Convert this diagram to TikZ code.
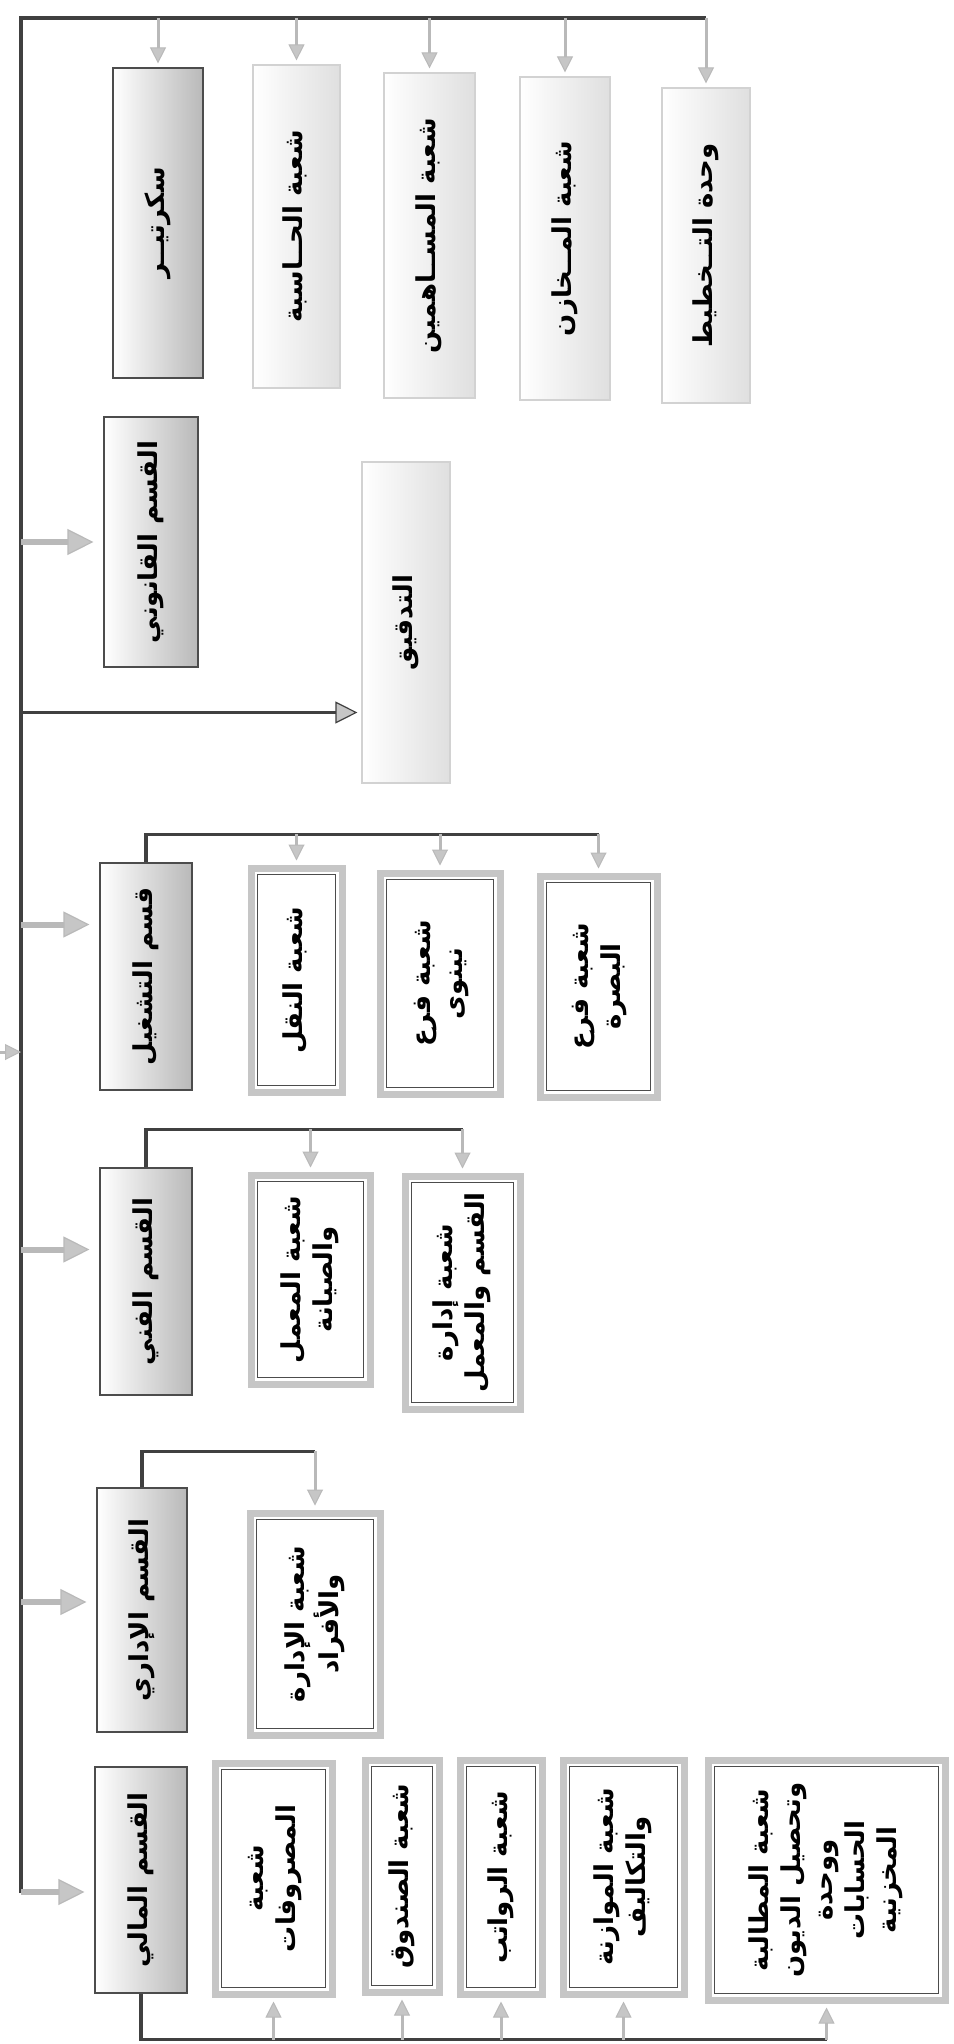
\documentclass[tikz,border=0pt]{standalone}
\usepackage{fontspec}
\usepackage{graphicx}
\usetikzlibrary{arrows.meta,positioning}
\newfontfamily\arabicfont[Script=Arabic]{DejaVu Sans}
\TeXXeTstate=1
\newcommand\ar[1]{\beginR#1\endR}
\newcommand\vt[1]{\rotatebox{90}{\begin{tabular}{@{}c@{}}#1\end{tabular}}}
\tikzset{>/.tip={Triangle[length=8pt,width=8pt,line width=0.5pt,fill=gray!45]}}
\tikzset{fat/.tip={Triangle[length=13pt,width=13pt,line width=0.6pt,fill=gray!45]}}
\tikzset{mid/.tip={Triangle[length=11pt,width=11pt,line width=0.6pt,fill=gray!45]}}
\tikzset{
  dept/.style={draw=gray!60!black,line width=0.6pt,left color=white,right color=gray!55,inner sep=0pt},
  light/.style={draw=gray!35,line width=0.6pt,left color=white,right color=gray!25,inner sep=0pt},
  shoba/.style={draw=gray!45,line width=3.5pt,fill=white,inner sep=0pt,
    path picture={\draw[gray!60!black,line width=0.6pt]
      ([shift={(3.2pt,3.2pt)}]path picture bounding box.south west) rectangle
      ([shift={(-3.2pt,-3.2pt)}]path picture bounding box.north east);}},
  trunk/.style={draw=gray!50!black,line width=2pt},
  bus/.style={draw=gray!50!black,line width=1.6pt},
  main/.style={draw=gray!55,line width=3pt,-fat},
  side/.style={draw=gray!50!black,line width=1.2pt,-mid},
  sub/.style={draw=gray!55,line width=1.5pt,->}
}

\begin{document}
\begin{tikzpicture}[x=0.5pt,y=-0.5pt,font=\arabicfont\bfseries\fontsize{13}{16}\selectfont]
        \fill[white] (0,0) rectangle (953,2044);
        \useasboundingbox (0,0) rectangle (953,2044);
        \node(sec)[dept,minimum width=45pt,minimum height=155pt] at (158,223){\vt{\ar{سكرتيــر}}};
        \node(hasb)[light,minimum width=43.5pt,minimum height=161.5pt] at (296.5,226.5){\vt{\ar{شعبة الحــاسبة}}};
        \node(musa)[light,minimum width=45.5pt,minimum height=162.5pt] at (429.5,235.5){\vt{\ar{شعبة المســاهمين}}};
        \node(makh)[light,minimum width=45pt,minimum height=161.5pt] at (565,238.5){\vt{\ar{شعبة المــخازن}}};
        \node(tkht)[light,minimum width=44pt,minimum height=157.5pt] at (706,245.5){\vt{\ar{وحدة التــخطيط}}};
        \node(qanu)[dept,minimum width=47pt,minimum height=125pt] at (151,542){\vt{\ar{القسم القانوني}}};
        \node(tadq)[light,minimum width=44pt,minimum height=160.5pt] at (406,622.5){\vt{\ar{التدقيق}}};
        \node(tash)[dept,minimum width=46pt,minimum height=113.5pt] at (146,976.5){\vt{\ar{قسم التشغيل}}};
        \node(naql)[shoba,minimum width=45.5pt,minimum height=112pt] at (296.5,980){\vt{\ar{شعبة النقل}}};
        \node(nina)[shoba,minimum width=60pt,minimum height=110.5pt] at (440,983.5){\vt{\ar{شعبة فرع}\\\ar{نينوى}}};
        \node(basr)[shoba,minimum width=58.5pt,minimum height=110.5pt] at (598.5,986.5){\vt{\ar{شعبة فرع}\\\ar{البصرة}}};
        \node(fann)[dept,minimum width=46pt,minimum height=113.5pt] at (146,1281.5){\vt{\ar{القسم الفني}}};
        \node(maml)[shoba,minimum width=59.5pt,minimum height=104.5pt] at (310.5,1279.5){\vt{\ar{شعبة المعمل}\\\ar{والصيانة}}};
        \node(idrq)[shoba,minimum width=57.5pt,minimum height=116.5pt] at (462.5,1292.5){\vt{\ar{شعبة إدارة}\\\ar{القسم والمعمل}}};
        \node(idar)[dept,minimum width=45pt,minimum height=122pt] at (142,1610){\vt{\ar{القسم الإداري}}};
        \node(afrd)[shoba,minimum width=65pt,minimum height=111pt] at (315,1624){\vt{\ar{شعبة الإدارة}\\\ar{والأفراد}}};
        \node(mali)[dept,minimum width=46pt,minimum height=113pt] at (141,1880){\vt{\ar{القسم المالي}}};
        \node(masr)[shoba,minimum width=58.5pt,minimum height=115.5pt] at (273.5,1878.5){\vt{\ar{شعبة}\\\ar{المصروفات}}};
        \node(sndq)[shoba,minimum width=37pt,minimum height=116pt] at (402,1876){\vt{\ar{شعبة الصندوق}}};
        \node(rwtb)[shoba,minimum width=41pt,minimum height=117pt] at (501,1877){\vt{\ar{شعبة الرواتب}}};
        \node(mwzn)[shoba,minimum width=60.5pt,minimum height=117pt] at (623.5,1877){\vt{\ar{شعبة الموازنة}\\\ar{والتكاليف}}};
        \node(mtlb)[shoba,minimum width=118.5pt,minimum height=120pt] at (826.5,1880){\vt{\ar{شعبة المطالبة}\\\ar{وتحصيل الديون}\\\ar{ووحدة}\\\ar{الحسابات}\\\ar{المخزنية}}};
        \coordinate(top) at (21,18);
        \coordinate(bot) at (21,1893);
        \coordinate(root) at (0,1052);
        \draw[trunk] (bot) -- (top) -- (top -| tkht.north);
        \draw[sub] (root) -- (root -| top);
        \foreach \n in {sec,hasb,musa,makh,tkht}
          \draw[sub] (top -| \n.north) -- ([yshift=2pt]\n.north);
        \foreach \n/\s in {qanu/0,tash/26,fann/16,idar/4,mali/-6}{
          \coordinate(a\n) at ([yshift=\s pt]\n.west);
          \draw[main] (a\n -| top) -- ([xshift=-5pt]a\n);
        }
        \coordinate(atq) at ([yshift=-45pt]tadq.west);
        \draw[side] (atq -| top) -- ([xshift=-2pt]atq);
        \coordinate(tb) at ([yshift=14pt]tash.north);
        \draw[bus] (tash.north) -- (tb) -- (tb -| basr.north);
        \foreach \n in {naql,nina,basr}
          \draw[sub] (tb -| \n.north) -- ([yshift=2pt]\n.north);
        \coordinate(fb) at ([yshift=19pt]fann.north);
        \draw[bus] (fann.north) -- (fb) -- (fb -| idrq.north);
        \foreach \n in {maml,idrq}
          \draw[sub] (fb -| \n.north) -- ([yshift=2pt]\n.north);
        \coordinate(ib) at ([yshift=18pt]idar.north);
        \draw[bus] (idar.north) -- (ib) -- (ib -| afrd.north);
        \draw[sub] (ib -| afrd.north) -- ([yshift=2pt]afrd.north);
        \coordinate(mb) at ([yshift=-23pt]mali.south);
        \draw[bus] (mali.south) -- (mb) -- (mb -| mtlb.south);
        \foreach \n in {masr,sndq,rwtb,mwzn,mtlb}
          \draw[sub] (mb -| \n.south) -- ([yshift=-2pt]\n.south);
      \end{tikzpicture}
\end{document}
